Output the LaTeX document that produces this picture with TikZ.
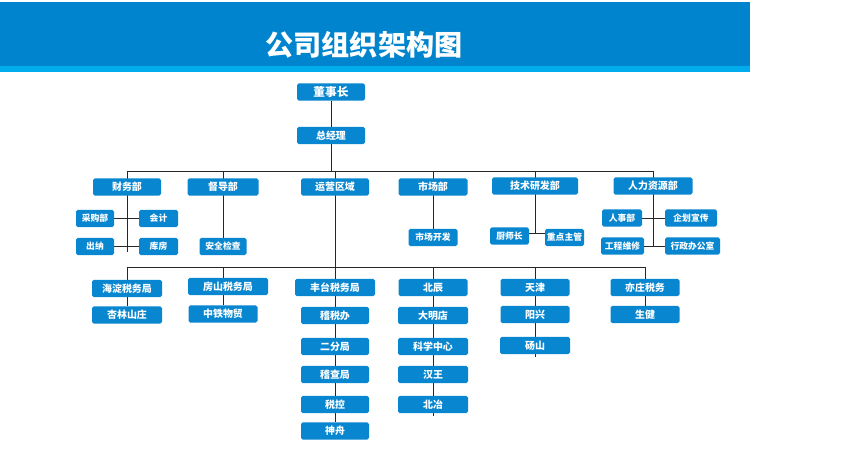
\documentclass[tikz,border=0pt]{standalone}
\usepackage{fontspec}
\newfontfamily\cjk{Noto Sans CJK SC}
\usetikzlibrary{backgrounds}
\definecolor{bannerblue}{RGB}{0,132,206}
\definecolor{stripblue}{RGB}{0,172,236}
\definecolor{boxblue}{RGB}{8,134,208}

\begin{document}
\begin{tikzpicture}[x=0.03cm,y=-0.03cm,
    box/.style={fill=boxblue,rounded corners=1.5pt,text=white,inner sep=0pt,
      minimum height=0.52cm,font=\cjk\bfseries\fontsize{8.5}{9}\selectfont},
    sbox/.style={box,font=\cjk\bfseries\fontsize{7.5}{8}\selectfont},
    wd/.style={minimum width=#1*0.03cm},
    link/.style={draw=black!85,line width=0.8pt}]
\useasboundingbox (0,0) rectangle (854,455);

% banner
\fill[bannerblue] (0,2) rectangle (750,66);
\fill[stripblue] (0,66) rectangle (750,72);
\node[text=white,font=\cjk\bfseries\fontsize{24}{26}\selectfont] (title) at (364,45) {公司组织架构图};

% top
\node[box,wd=68,font=\cjk\bfseries\fontsize{10}{11}\selectfont] (dsz) at (331,92) {董事长};
\node[box,wd=68] (zjl) at (331,135.5) {总经理};

% departments
\node[box,wd=68] (cwb) at (127,187) {财务部};
\node[box,wd=71] (ddb) at (223,187) {督导部};
\node[box,wd=68] (yyqy) at (335,187) {运营区域};
\node[box,wd=69] (scb) at (433,187) {市场部};
\node[box,wd=86] (jsyf) at (535,186) {技术研发部};
\node[box,wd=79] (rlzy) at (653,186) {人力资源部};

% department children
\node[sbox,wd=38] (cgb) at (95,218.5) {采购部};
\node[sbox,wd=39] (kj) at (158.5,218.5) {会计};
\node[sbox,wd=38] (cn) at (95,246.5) {出纳};
\node[sbox,wd=39] (kf) at (158.5,246.5) {库房};
\node[sbox,wd=47] (aqjc) at (223,246.5) {安全检查};
\node[sbox,wd=49] (sckf) at (433,237.5) {市场开发};
\node[sbox,wd=39] (csz) at (509.5,236) {厨师长};
\node[sbox,wd=39] (zdzg) at (564.5,237.5) {重点主管};
\node[sbox,wd=40] (rsb) at (622,218) {人事部};
\node[sbox,wd=52] (qhxc) at (691,218) {企划宣传};
\node[sbox,wd=43] (gcwx) at (622.5,246) {工程维修};
\node[sbox,wd=55] (xzbgs) at (692.5,246) {行政办公室};

% regions
\node[box,wd=70] (hdsw) at (127,288.5) {海淀税务局};
\node[box,wd=70] (xlsz) at (127,315) {杏林山庄};
\node[box,wd=80] (fssw) at (228,286.5) {房山税务局};
\node[box,wd=69] (zttm) at (223,314) {中铁物贸};
\node[box,wd=80] (ftsw) at (335,287.5) {丰台税务局};
\node[box,wd=68] (jsb) at (335,315.5) {稽税办};
\node[box,wd=68] (efj) at (335,346.5) {二分局};
\node[box,wd=68] (jcj) at (335,374.5) {稽查局};
\node[box,wd=68] (sk) at (335,404.5) {税控};
\node[box,wd=68] (szh) at (335,431) {神舟};
\node[box,wd=69] (bc) at (433,287.5) {北辰};
\node[box,wd=70] (dmd) at (433,315.5) {大明店};
\node[box,wd=70] (kxzx) at (433,346.5) {科学中心};
\node[box,wd=70] (hw) at (433,374.5) {汉王};
\node[box,wd=70] (by) at (433,404.5) {北冶};
\node[box,wd=69] (tj) at (535,287.5) {天津};
\node[box,wd=69] (yx) at (535,314.5) {阳兴};
\node[box,wd=70] (ds) at (535,345.5) {砀山};
\node[box,wd=69] (yzsw) at (645,287.5) {亦庄税务};
\node[box,wd=69] (sj) at (645,314.5) {生健};

\coordinate (busA) at (127,171);
\coordinate (busAR) at (653,171);
\coordinate (busB) at (127,267);
\coordinate (busBR) at (645,267);
\coordinate (cwEnd) at (127,252);
\coordinate (jsJoin) at (535,233);
\coordinate (rlEnd) at (653,246);

\begin{scope}[on background layer]
  \draw[link] (dsz) -- (zjl);
  \draw[link] (zjl) -- (zjl |- busA);
  \draw[link] (busA) -- (busAR);
  \draw[link] (cwb |- busA) -- (cwEnd);
  \draw[link] (ddb |- busA) -- (aqjc);
  \draw[link] (yyqy |- busA) -- (szh);
  \draw[link] (scb |- busA) -- (sckf);
  \draw[link] (jsyf |- busA) -- (jsJoin);
  \draw[link] (rlzy |- busA) -- (rlEnd);
  \draw[link] (cgb) -- (kj);
  \draw[link] (cn) -- (kf);
  \draw[link] (csz |- jsJoin) -- (zdzg |- jsJoin);
  \draw[link] (rsb) -- (qhxc);
  \draw[link] (gcwx) -- (xzbgs);
  \draw[link] (busB) -- (busBR);
  \draw[link] (hdsw |- busB) -- (xlsz);
  \draw[link] (zttm |- busB) -- (zttm);
  \draw[link] (bc |- busB) -- ([yshift=-2pt]by.south);
  \draw[link] (tj |- busB) -- ([yshift=-2pt]ds.south);
  \draw[link] (yzsw |- busB) -- (sj);
\end{scope}
\end{tikzpicture}
\end{document}
